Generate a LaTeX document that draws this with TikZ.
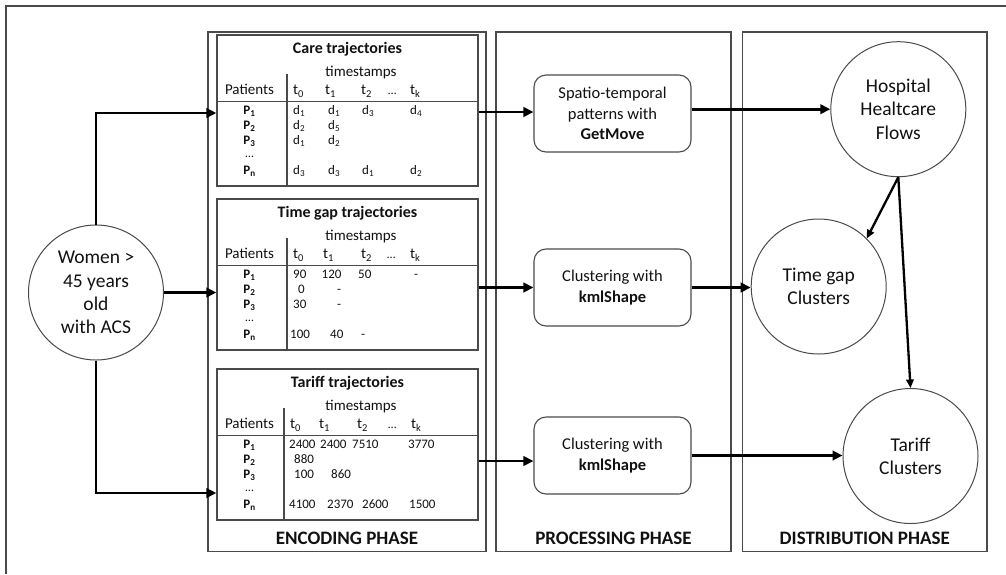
\documentclass[tikz,border=0pt]{standalone}
\usepackage{fontspec}
\setmainfont{Carlito}
\usetikzlibrary{arrows.meta}
\definecolor{frame}{HTML}{4A4A4A}
\definecolor{ink}{HTML}{111111}
\tikzset{
  phase/.style={draw=frame, line width=1.4pt, inner sep=0pt},
  tbox/.style={draw=frame, line width=1.3pt, minimum width=261pt, minimum height=151pt, inner sep=0pt},
  tline/.style={draw=frame, line width=1.2pt},
  ttl/.style={font=\bfseries\fontsize{16}{19}\selectfont, inner sep=0pt, text=ink},
  hd/.style={font=\fontsize{15}{18}\selectfont, inner sep=0pt, text=ink, text height=1.5ex, text depth=0.25ex},
  hdw/.style={hd, anchor=west},
  cell/.style={font=\fontsize{13}{15}\selectfont, inner sep=0pt, anchor=west, text height=1.5ex, text depth=0.25ex, text=ink},
  pl/.style={font=\bfseries\fontsize{13}{15}\selectfont, inner sep=0pt, text height=1.5ex, text depth=0.25ex, text=ink},
  proc/.style={draw=frame, rounded corners=12pt, line width=1.1pt, minimum width=157pt, minimum height=77pt, inner sep=0pt, align=center, text=ink},
  circ/.style={circle, draw=frame, line width=1pt, minimum size=135pt, inner sep=0pt, align=center, font=\fontsize{19.5}{23.3}\selectfont, text=ink},
  arr/.style={draw=black, line width=2.9pt, -{Triangle[length=10pt,width=9.5pt]}},
  arrs/.style={draw=black, line width=2.3pt, -{Triangle[length=8.5pt,width=7.5pt]}},
  plabel/.style={font=\bfseries\fontsize{19}{22}\selectfont, inner sep=0pt, text=ink},
  outer/.style={draw=frame, line width=1.6pt}
}
\newcommand{\trajtab}[4]{%
  \node[tbox] (#1) at (347.5,#2+75.5) {};
  \node[ttl] (#1-ttl) at (347.5,#2+14.5) {#3};
  \node[hd] (#1-ts) at (361,#2+38.5) {timestamps};
  \node[hd] (#1-pat) at (249.5,#2+57) {Patients};
  \draw[tline] (217,#2+66.5) -- (478,#2+66.5);
  \draw[tline] (#4,#2+38.5) -- (#4,#2+151);
  \node[pl] (#1-p1) at (249.5,#2+77) {P\textsubscript{1}};
  \node[pl] (#1-p2) at (249.5,#2+92) {P\textsubscript{2}};
  \node[pl] (#1-p3) at (249.5,#2+106.5) {P\textsubscript{3}};
  \node[pl] (#1-pd) at (249.5,#2+119.5) {\mdseries\fontsize{12}{13}\selectfont …};
  \node[pl] (#1-pn) at (249.5,#2+136.5) {P\textsubscript{n}};
}
\newcommand{\tcols}[7]{%
  \node[hdw] (#1-t0) at (#3,#2+57) {t\textsubscript{0}};
  \node[hdw] (#1-t1) at (#4,#2+57) {t\textsubscript{1}};
  \node[hdw] (#1-t2) at (#5,#2+57) {t\textsubscript{2}};
  \node[hdw] (#1-td) at (#6,#2+57) {\fontsize{12}{13}\selectfont …};
  \node[hdw] (#1-tk) at (#7,#2+57) {t\textsubscript{k}};
}
\newcommand{\cel}[4]{\node[cell] (#1) at (#2,#3) {#4};}
\begin{document}
\begin{tikzpicture}[x=1pt,y=-1pt]
\useasboundingbox (0,0) rectangle (1006,574);
% outer frame (only left and top visible)
\draw[outer] (5.7,574) -- (5.7,5.7) -- (1006,5.7);
% phase boxes
\node[phase, minimum width=278pt, minimum height=519.5pt] (enc) at (347,291.75) {};
\node[phase, minimum width=235pt, minimum height=519.5pt] (pro) at (613.5,291.75) {};
\node[phase, minimum width=244.5pt, minimum height=519.5pt] (dis) at (864.75,291.75) {};
\node[plabel] (enc-l) at (347,538) {ENCODING PHASE};
\node[plabel] (pro-l) at (613.5,538) {PROCESSING PHASE};
\node[plabel] (dis-l) at (864.75,538) {DISTRIBUTION PHASE};
% table 1
\trajtab{t1}{35}{Care trajectories}{287}
\tcols{t1}{35}{293}{325}{361}{388}{410}
\cel{t1-a1}{293}{112}{d\textsubscript{1}}
\cel{t1-a2}{328}{112}{d\textsubscript{1}}
\cel{t1-a3}{362}{112}{d\textsubscript{3}}
\cel{t1-a4}{410}{112}{d\textsubscript{4}}
\cel{t1-b1}{293}{127}{d\textsubscript{2}}
\cel{t1-b2}{328}{127}{d\textsubscript{5}}
\cel{t1-c1}{293}{141.5}{d\textsubscript{1}}
\cel{t1-c2}{328}{141.5}{d\textsubscript{2}}
\cel{t1-n1}{293}{171.5}{d\textsubscript{3}}
\cel{t1-n2}{328}{171.5}{d\textsubscript{3}}
\cel{t1-n3}{362}{171.5}{d\textsubscript{1}}
\cel{t1-n4}{410}{171.5}{d\textsubscript{2}}
% table 2
\trajtab{t2}{199}{Time gap trajectories}{287}
\tcols{t2}{199}{293}{323}{361}{387}{410}
\cel{t2-a1}{293}{276}{90}
\cel{t2-a2}{321.5}{276}{120}
\cel{t2-a3}{358}{276}{50}
\cel{t2-a4}{414}{276}{-}
\cel{t2-b1}{298}{291}{0}
\cel{t2-b2}{337}{291}{-}
\cel{t2-c1}{293}{305.5}{30}
\cel{t2-c2}{337}{305.5}{-}
\cel{t2-n1}{290}{335.5}{100}
\cel{t2-n2}{330}{335.5}{40}
\cel{t2-n3}{361}{335.5}{-}
% table 3
\trajtab{t3}{369}{Tariff trajectories}{284}
\tcols{t3}{369}{290}{319}{357}{388}{411}
\cel{t3-a1}{289}{446}{2400}
\cel{t3-a2}{320}{446}{2400}
\cel{t3-a3}{352}{446}{7510}
\cel{t3-a4}{408}{446}{3770}
\cel{t3-b1}{294}{461}{880}
\cel{t3-c1}{294}{475.5}{100}
\cel{t3-c2}{331}{475.5}{860}
\cel{t3-n1}{289}{505.5}{4100}
\cel{t3-n2}{327}{505.5}{2370}
\cel{t3-n3}{362}{505.5}{2600}
\cel{t3-n4}{409}{505.5}{1500}
% source
\node[circ] (women) at (96,292.5) {Women >\\45 years\\old\\with ACS};
% processing boxes
\node[proc, font=\fontsize{16.5}{20.5}\selectfont] (spatio) at (612.5,113.5) {Spatio-temporal\\patterns with\\\textbf{GetMove}};
\node[proc, font=\fontsize{16.5}{21.5}\selectfont] (clu1) at (612.5,287.5) {Clustering with\\\textbf{kmlShape}};
\node[proc, font=\fontsize{16.5}{21.5}\selectfont] (clu2) at (612.5,455.5) {Clustering with\\\textbf{kmlShape}};
% distribution circles
\node[circ] (hosp) at (898.3,109.2) {Hospital\\Healtcare\\Flows};
\node[circ] (tgap) at (818.7,286.5) {Time gap\\Clusters};
\node[circ] (tariff) at (910.5,456) {Tariff\\Clusters};
% level coordinates
\coordinate (ya) at (0,113);
\coordinate (yc) at (0,493);
\coordinate (yd) at (0,112);
\coordinate (yf) at (0,461);
% connectors
\draw[arr] (women.north) |- (t1.west |- ya);
\draw[arr] (women.east) -- (t2.west |- women.east);
\draw[arr] (women.south) |- (t3.west |- yc);
\draw[arr] (t1.east |- yd) -- (spatio.west |- yd);
\draw[arr] (t2.east |- clu1.west) -- (clu1.west);
\draw[arr] (t3.east |- yf) -- (clu2.west |- yf);
\draw[arr] (spatio.east |- hosp.west) -- (hosp.west);
\draw[arr] (clu1.east) -- (clu1.east -| tgap.west);
\draw[arr] (clu2.east) -- (clu2.east -| tariff.west);
\draw[arrs] (hosp.south) -- (tgap.45);
\draw[arrs] (hosp.south) -- (tariff.north);
\end{tikzpicture}
\end{document}
